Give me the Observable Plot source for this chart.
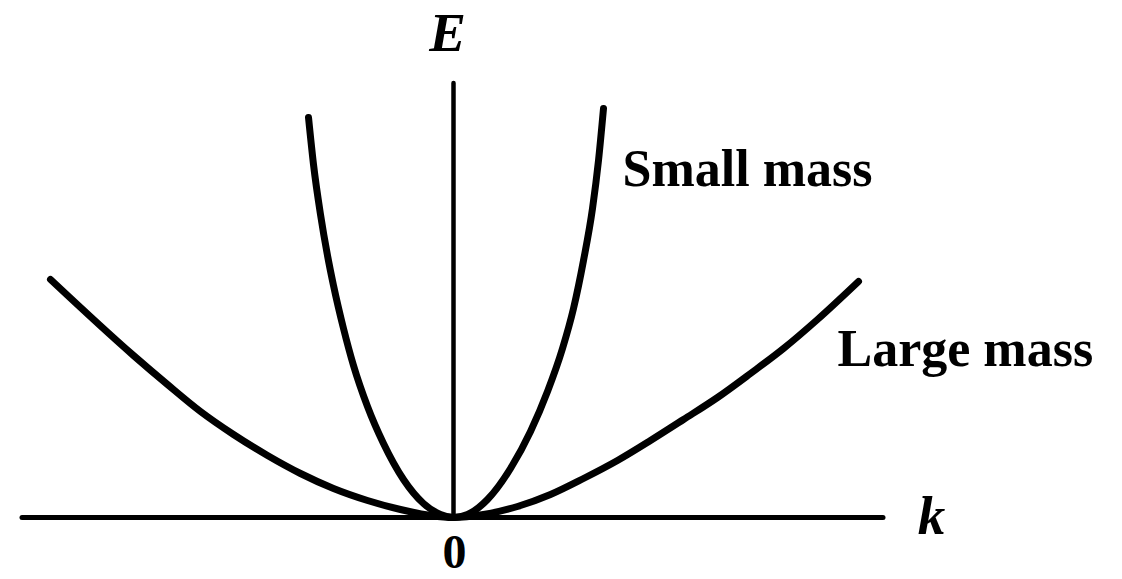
<!DOCTYPE html>
<html>
<head>
<meta charset="utf-8">
<script src="https://cdn.jsdelivr.net/npm/d3@7"></script>
<script src="https://cdn.jsdelivr.net/npm/@observablehq/plot@0.6"></script>
<style>
  html, body { margin: 0; padding: 0; background: #fff; }
  #chart svg { display: block; }
</style>
</head>
<body>
<div id="chart"></div>
<script>
// Momentum k and energy E (arbitrary units)
const smallMassK = [-1.45, -1.40, -1.33, -1.26, -1.20, -1.10, -1.00, -0.86, -0.70, -0.50, -0.30, -0.13, 0,
                    0.14, 0.34, 0.57, 0.77, 0.94, 1.09, 1.20, 1.30, 1.39, 1.45, 1.50];
const smallMassE = [4.00, 3.53, 3.03, 2.62, 2.32, 1.89, 1.52, 1.11, 0.74, 0.38, 0.14, 0.03, 0,
                    0.03, 0.18, 0.49, 0.86, 1.26, 1.69, 2.09, 2.57, 3.09, 3.57, 4.09];

const largeMassK = [-4.03, -3.20, -2.86, -2.53, -2.20, -1.86, -1.53, -1.20, -0.86, -0.53, -0.23, 0,
                    0.30, 0.64, 0.97, 1.30, 1.64, 1.97, 2.30, 2.64, 2.97, 3.30, 3.64, 4.05];
const largeMassE = [2.38, 1.62, 1.33, 1.06, 0.83, 0.62, 0.44, 0.29, 0.17, 0.08, 0.02, 0,
                    0.03, 0.11, 0.23, 0.39, 0.57, 0.77, 0.98, 1.20, 1.44, 1.69, 1.98, 2.36];

// Axis extents
const kAxisRange = [-4.31, 4.30];
const eAxisRange = [0, 4.34];

// Labels
const curveLabels = ["Small mass", "Large mass"];
const curveLabelK = [1.69, 3.84];
const curveLabelE = [3.32, 1.52];
const axisNames = ["E", "k"];
const axisNameK = [-0.06, 4.78];
const axisNameE = [4.67, -0.16];
const tickLabels = ["0"];
const tickK = [0.01];
const tickE = [-0.50];

const small = smallMassK.map((k, i) => ({k, E: smallMassE[i]}));
const large = largeMassK.map((k, i) => ({k, E: largeMassE[i]}));
const labels = curveLabels.map((t, i) => ({t, k: curveLabelK[i], E: curveLabelE[i]}));
const names = axisNames.map((t, i) => ({t, k: axisNameK[i], E: axisNameE[i]}));
const ticks = tickLabels.map((t, i) => ({t, k: tickK[i], E: tickE[i]}));

const serif = "'Liberation Serif', 'Times New Roman', serif";

const chart = Plot.plot({
  width: 1122,
  height: 579,
  margin: 0,
  style: {background: "#fff", overflow: "visible"},
  x: {domain: [-4.53, 6.69], axis: null},
  y: {domain: [-0.62, 5.17], axis: null},
  marks: [
    Plot.ruleY([0], {x1: kAxisRange[0], x2: kAxisRange[1], stroke: "#000", strokeWidth: 5, strokeLinecap: "round"}),
    Plot.ruleX([0], {y1: eAxisRange[0], y2: eAxisRange[1], stroke: "#000", strokeWidth: 4.5, strokeLinecap: "round"}),
    Plot.line(large, {x: "k", y: "E", curve: "monotone-x", stroke: "#000", strokeWidth: 7, strokeLinecap: "round"}),
    Plot.line(small, {x: "k", y: "E", curve: "monotone-x", stroke: "#000", strokeWidth: 7, strokeLinecap: "round"}),
    Plot.text(labels, {x: "k", y: "E", text: "t", textAnchor: "start", lineAnchor: "bottom",
      fontFamily: serif, fontWeight: "bold", fontSize: 52, fill: "#000"}),
    Plot.text(names, {x: "k", y: "E", text: "t", textAnchor: "middle", lineAnchor: "bottom",
      fontFamily: serif, fontWeight: "bold", fontStyle: "italic", fontSize: 55, fill: "#000"}),
    Plot.text(ticks, {x: "k", y: "E", text: "t", textAnchor: "middle", lineAnchor: "bottom",
      fontFamily: serif, fontWeight: "bold", fontSize: 48, fill: "#000"})
  ]
});
document.getElementById("chart").appendChild(chart);
</script>
</body>
</html>
